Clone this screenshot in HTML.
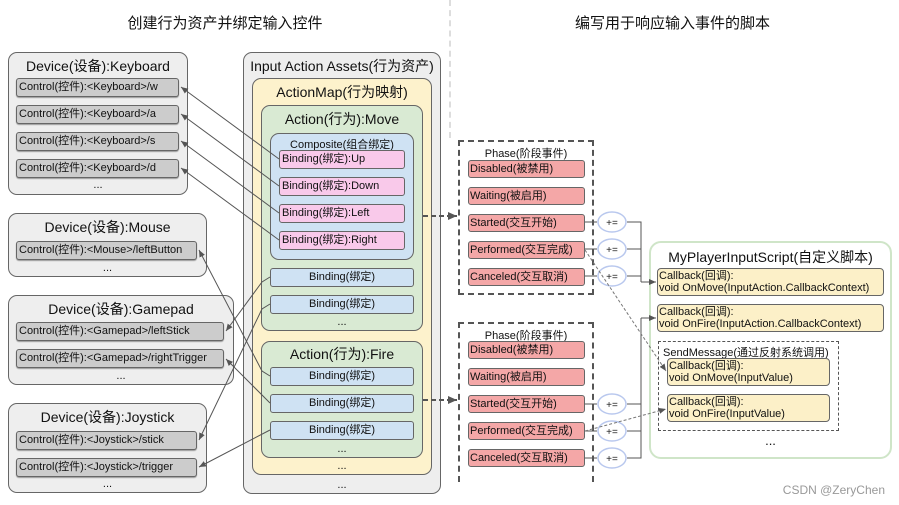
<!DOCTYPE html>
<html><head><meta charset="utf-8"><style>
body{margin:0;width:899px;height:505px;background:#fff;position:relative;overflow:hidden;font-family:"Liberation Sans","Noto Sans CJK SC",sans-serif;color:#111}
.b{position:absolute;box-sizing:border-box;border:1px solid #666;border-radius:9px}
.t{position:absolute;left:0;right:0;text-align:center;white-space:nowrap}
.c{position:absolute;box-sizing:border-box;border:1px solid #666;border-radius:3px;background:#ccc;font-size:11px;line-height:16px;padding-left:2px;white-space:nowrap;box-shadow:0 1px 1px #999}
.bd{position:absolute;box-sizing:border-box;border:1px solid #666;border-radius:3px;background:#cfe2f3;font-size:11px;line-height:16px;text-align:center;white-space:nowrap}
.pk{background:#f9c9ea;text-align:left;padding-left:2px}
.ph{position:absolute;box-sizing:border-box;border:1px solid #666;border-radius:3px;background:#f4a7a7;font-size:11px;line-height:16px;padding-left:1px;white-space:nowrap;left:468px;width:117px;height:18px}
.cb{position:absolute;box-sizing:border-box;border:1px solid #666;border-radius:4px;background:#fcf0c8;font-size:11px;line-height:12px;padding:1px 1px;white-space:nowrap}
.d{position:absolute;font-size:11px;text-align:center;left:0;right:0}
</style></head><body>
<div style="position:absolute;left:0;width:450px;top:12px;text-align:center;font-size:15px">创建行为资产并绑定输入控件</div>
<div style="position:absolute;left:450px;width:445px;top:12px;text-align:center;font-size:15px">编写用于响应输入事件的脚本</div>
<div style="position:absolute;left:449px;top:0;height:138px;border-left:2px dashed #ddd"></div>

<!-- Keyboard -->
<div class="b" style="left:8px;top:52px;width:180px;height:143px;background:#eee"><div class="t" style="top:3px;font-size:14px">Device(设备):Keyboard</div><div class="d" style="top:126px">...</div></div>
<div class="c" style="left:16px;top:78px;width:163px;height:19px">Control(控件):&lt;Keyboard&gt;/w</div>
<div class="c" style="left:16px;top:105px;width:163px;height:19px">Control(控件):&lt;Keyboard&gt;/a</div>
<div class="c" style="left:16px;top:132px;width:163px;height:19px">Control(控件):&lt;Keyboard&gt;/s</div>
<div class="c" style="left:16px;top:159px;width:163px;height:19px">Control(控件):&lt;Keyboard&gt;/d</div>
<!-- Mouse -->
<div class="b" style="left:8px;top:213px;width:199px;height:64px;background:#eee"><div class="t" style="top:3px;font-size:14px">Device(设备):Mouse</div><div class="d" style="top:48px">...</div></div>
<div class="c" style="left:16px;top:241px;width:181px;height:19px">Control(控件):&lt;Mouse&gt;/leftButton</div>
<!-- Gamepad -->
<div class="b" style="left:8px;top:295px;width:226px;height:90px;background:#eee"><div class="t" style="top:3px;font-size:14px">Device(设备):Gamepad</div><div class="d" style="top:74px">...</div></div>
<div class="c" style="left:16px;top:322px;width:208px;height:19px">Control(控件):&lt;Gamepad&gt;/leftStick</div>
<div class="c" style="left:16px;top:349px;width:208px;height:19px">Control(控件):&lt;Gamepad&gt;/rightTrigger</div>
<!-- Joystick -->
<div class="b" style="left:8px;top:403px;width:199px;height:90px;background:#eee"><div class="t" style="top:3px;font-size:14px">Device(设备):Joystick</div><div class="d" style="top:74px">...</div></div>
<div class="c" style="left:16px;top:431px;width:181px;height:19px">Control(控件):&lt;Joystick&gt;/stick</div>
<div class="c" style="left:16px;top:458px;width:181px;height:19px">Control(控件):&lt;Joystick&gt;/trigger</div>

<!-- Assets -->
<div class="b" style="left:243px;top:52px;width:198px;height:442px;background:#eee"><div class="t" style="top:3px;font-size:14px">Input Action Assets(行为资产)</div><div class="d" style="top:426px">...</div></div>
<div class="b" style="left:252px;top:78px;width:180px;height:397px;background:#fdf2cc"><div class="t" style="top:3px;font-size:14px">ActionMap(行为映射)</div><div class="d" style="top:381px">...</div></div>
<div class="b" style="left:261px;top:105px;width:162px;height:226px;background:#d9ead3"><div class="t" style="top:3px;font-size:14px">Action(行为):Move</div><div class="d" style="top:210px">...</div></div>
<div class="b" style="left:270px;top:133px;width:144px;height:127px;background:#cfe2f3"><div class="t" style="top:2px;font-size:11px">Composite(组合绑定)</div></div>
<div class="bd pk" style="left:279px;top:150px;width:126px;height:19px">Binding(绑定):Up</div>
<div class="bd pk" style="left:279px;top:177px;width:126px;height:19px">Binding(绑定):Down</div>
<div class="bd pk" style="left:279px;top:204px;width:126px;height:19px">Binding(绑定):Left</div>
<div class="bd pk" style="left:279px;top:231px;width:126px;height:19px">Binding(绑定):Right</div>
<div class="bd" style="left:270px;top:268px;width:144px;height:19px">Binding(绑定)</div>
<div class="bd" style="left:270px;top:295px;width:144px;height:19px">Binding(绑定)</div>
<div class="b" style="left:261px;top:341px;width:162px;height:117px;background:#d9ead3"><div class="t" style="top:2px;font-size:14px">Action(行为):Fire</div><div class="d" style="top:101px">...</div></div>
<div class="bd" style="left:270px;top:367px;width:144px;height:19px">Binding(绑定)</div>
<div class="bd" style="left:270px;top:394px;width:144px;height:19px">Binding(绑定)</div>
<div class="bd" style="left:270px;top:421px;width:144px;height:19px">Binding(绑定)</div>

<!-- Phases -->
<div style="position:absolute;left:458px;top:140px;width:136px;height:155px;box-sizing:border-box;border:2px dashed #555"><div class="t" style="top:3px;font-size:11px">Phase(阶段事件)</div></div>
<div class="ph" style="top:160px">Disabled(被禁用)</div>
<div class="ph" style="top:187px">Waiting(被启用)</div>
<div class="ph" style="top:214px">Started(交互开始)</div>
<div class="ph" style="top:241px">Performed(交互完成)</div>
<div class="ph" style="top:268px">Canceled(交互取消)</div>
<div style="position:absolute;left:458px;top:322px;width:136px;height:160px;box-sizing:border-box;border:2px dashed #555;border-bottom:none"><div class="t" style="top:3px;font-size:11px">Phase(阶段事件)</div></div>
<div class="ph" style="top:341px">Disabled(被禁用)</div>
<div class="ph" style="top:368px">Waiting(被启用)</div>
<div class="ph" style="top:395px">Started(交互开始)</div>
<div class="ph" style="top:422px">Performed(交互完成)</div>
<div class="ph" style="top:449px">Canceled(交互取消)</div>

<!-- Script -->
<div class="b" style="left:649px;top:241px;width:243px;height:218px;border:2px solid #cfe5c8;border-radius:12px"><div class="t" style="top:4px;font-size:14px">MyPlayerInputScript(自定义脚本)</div><div class="d" style="top:190px;font-size:13px">...</div></div>
<div class="cb" style="left:657px;top:268px;width:227px;height:28px">Callback(回调):<br>void OnMove(InputAction.CallbackContext)</div>
<div class="cb" style="left:657px;top:304px;width:227px;height:28px">Callback(回调):<br>void OnFire(InputAction.CallbackContext)</div>
<div style="position:absolute;left:658px;top:341px;width:181px;height:90px;box-sizing:border-box;border:1px dashed #555"><div style="position:absolute;left:4px;top:2px;font-size:11px;white-space:nowrap">SendMessage(通过反射系统调用)</div></div>
<div class="cb" style="left:667px;top:358px;width:163px;height:28px">Callback(回调):<br>void OnMove(InputValue)</div>
<div class="cb" style="left:667px;top:394px;width:163px;height:28px">Callback(回调):<br>void OnFire(InputValue)</div>

<svg width="899" height="505" style="position:absolute;left:0;top:0" xmlns="http://www.w3.org/2000/svg">
<defs><marker id="a" markerWidth="8" markerHeight="8" refX="7" refY="4" orient="auto" markerUnits="userSpaceOnUse"><path d="M0,1 L7,4 L0,7z" fill="#555"/></marker>
<marker id="g" markerWidth="10" markerHeight="10" refX="9" refY="5" orient="auto" markerUnits="userSpaceOnUse"><path d="M0,1 L9,5 L0,9z" fill="#555"/></marker></defs>
<g stroke="#555" stroke-width="1" fill="none" marker-end="url(#a)">
<line x1="279" y1="159" x2="181" y2="87"/>
<line x1="279" y1="186" x2="181" y2="114"/>
<line x1="279" y1="213" x2="181" y2="141"/>
<line x1="279" y1="240" x2="181" y2="168"/>
<polyline points="270,277 262,282 226,331"/>
<polyline points="270,304 262,309 199,440"/>
<polyline points="270,376 262,371 199,250"/>
<line x1="270" y1="403" x2="226" y2="359"/>
<line x1="270" y1="430" x2="199" y2="467"/>
</g>
<g stroke="#555" stroke-width="2" stroke-dasharray="5,3" fill="none" marker-end="url(#g)">
<line x1="423" y1="216" x2="457" y2="216"/>
<line x1="423" y1="400" x2="457" y2="400"/>
</g>
<g stroke="#555" stroke-width="1" fill="none">
<line x1="585" y1="222" x2="597" y2="222"/><line x1="585" y1="249" x2="597" y2="249"/><line x1="585" y1="276" x2="597" y2="276"/>
<line x1="585" y1="404" x2="597" y2="404"/><line x1="585" y1="431" x2="597" y2="431"/><line x1="585" y1="458" x2="597" y2="458"/>
<polyline points="627,222 641,222 641,282"/><line x1="627" y1="249" x2="641" y2="249"/><line x1="627" y1="276" x2="641" y2="276"/>
<line x1="641" y1="282" x2="656" y2="282" marker-end="url(#a)"/>
<polyline points="627,458 641,458 641,318"/><line x1="627" y1="404" x2="641" y2="404"/><line x1="627" y1="431" x2="641" y2="431"/>
<line x1="641" y1="318" x2="656" y2="318" marker-end="url(#a)"/>
</g>
<g stroke="#b9c8ee" stroke-width="1.5" fill="#fff">
<ellipse cx="612" cy="222" rx="14" ry="10"/><ellipse cx="612" cy="249" rx="14" ry="10"/><ellipse cx="612" cy="276" rx="14" ry="10"/>
<ellipse cx="612" cy="404" rx="14" ry="10"/><ellipse cx="612" cy="431" rx="14" ry="10"/><ellipse cx="612" cy="458" rx="14" ry="10"/>
</g>
<g font-size="10" text-anchor="middle" fill="#222" font-family="Liberation Sans">
<text x="612" y="226">+=</text><text x="612" y="253">+=</text><text x="612" y="280">+=</text>
<text x="612" y="408">+=</text><text x="612" y="435">+=</text><text x="612" y="462">+=</text>
</g>
<g stroke="#777" stroke-width="1" stroke-dasharray="3,2" fill="none" marker-end="url(#a)">
<line x1="585" y1="250" x2="666" y2="371"/>
<line x1="585" y1="431" x2="666" y2="409"/>
</g>
</svg>
<div style="position:absolute;right:14px;top:483px;font-size:12px;color:#999">CSDN @ZeryChen</div>
</body></html>
